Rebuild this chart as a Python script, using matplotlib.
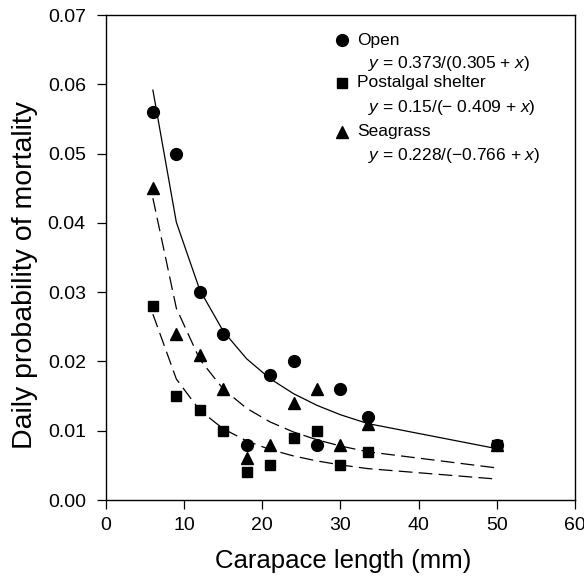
import numpy as np
import matplotlib
matplotlib.use('Agg')
import matplotlib.pyplot as plt

plt.rcParams['font.family'] = ['Liberation Sans', 'DejaVu Sans']
plt.rcParams['mathtext.fontset'] = 'custom'
plt.rcParams['mathtext.rm'] = 'Liberation Sans'
plt.rcParams['mathtext.it'] = 'Liberation Sans:italic'

# carapace length classes (mm)
length = [6, 9, 12, 15, 18, 21, 24, 27, 30, 33.5, 50]

open_mort = [0.056, 0.050, 0.030, 0.024, 0.008, 0.018, 0.020, 0.008, 0.016, 0.012, 0.008]
shelter_mort = [0.028, 0.015, 0.013, 0.010, 0.004, 0.005, 0.009, 0.010, 0.005, 0.007, 0.008]
seagrass_mort = [0.045, 0.024, 0.021, 0.016, 0.006, 0.008, 0.014, 0.016, 0.008, 0.011, 0.008]

# fitted y = a/(b + x), parameters from the legend
open_fit = (0.373, 0.305)
shelter_fit = (0.15, -0.409)
seagrass_fit = (0.228, -0.766)

W, H = 584, 577
fig = plt.figure(figsize=(W / 100, H / 100), dpi=100)
ax = fig.add_axes([0.1815, 0.1334, 0.803, 0.8406])

xs = np.array(length)
ax.plot(xs, open_fit[0] / (open_fit[1] + xs), color='black', lw=0.9, zorder=2)
ax.plot(xs, shelter_fit[0] / (shelter_fit[1] + xs), color='black', lw=0.9,
        linestyle=(0, (11, 5)), zorder=2)
ax.plot(xs, seagrass_fit[0] / (seagrass_fit[1] + xs), color='black', lw=0.9,
        linestyle=(0, (11, 5)), zorder=2)

ax.plot(length, seagrass_mort, '^', color='black', ms=8.5, zorder=3)
ax.plot(length, shelter_mort, 's', color='black', ms=7.5, zorder=4)
ax.plot(length, open_mort, 'o', color='black', ms=8.5, zorder=5)

ax.set_xlim(0, 60)
ax.set_ylim(0, 0.07)
ax.set_xticks(np.arange(0, 61, 10))
ax.set_yticks(np.arange(0, 0.071, 0.01))
ax.set_yticklabels(['%.2f' % v for v in np.arange(0, 0.071, 0.01)])
ax.tick_params(direction='out', length=6.5, width=0.9, labelsize=14)
ax.tick_params(axis='y', pad=8)
ax.tick_params(axis='x', pad=6)
for s in ax.spines.values():
    s.set_linewidth(1.0)

# axis titles placed in figure pixels
fig.text(343 / W, 1 - 561 / H, 'Carapace length (mm)', fontsize=18.5,
         ha='center', va='center')
fig.text(25 / W, 1 - 275 / H, 'Daily probability of mortality', fontsize=20.5,
         ha='center', va='center', rotation=90)

# legend drawn by hand
tr = ax.transAxes
fs = 12.5
ax.plot([0.5025], [0.948], 'o', color='black', ms=8.5, transform=tr, clip_on=False)
ax.text(0.535, 0.948, 'Open', transform=tr, fontsize=fs, va='center')
ax.text(0.559, 0.901, '$y$ = 0.373/(0.305 + $x$)', transform=tr, fontsize=fs, va='center')
ax.plot([0.5025], [0.860], 's', color='black', ms=7.5, transform=tr, clip_on=False)
ax.text(0.535, 0.860, 'Postalgal shelter', transform=tr, fontsize=fs, va='center')
ax.text(0.559, 0.810, '$y$ = 0.15/(\u2212 0.409 + $x$)', transform=tr, fontsize=fs, va='center')
ax.plot([0.5025], [0.759], '^', color='black', ms=8.5, transform=tr, clip_on=False)
ax.text(0.535, 0.759, 'Seagrass', transform=tr, fontsize=fs, va='center')
ax.text(0.559, 0.711, '$y$ = 0.228/(\u22120.766 + $x$)', transform=tr, fontsize=fs, va='center')

fig.savefig('out.png', dpi=100)
